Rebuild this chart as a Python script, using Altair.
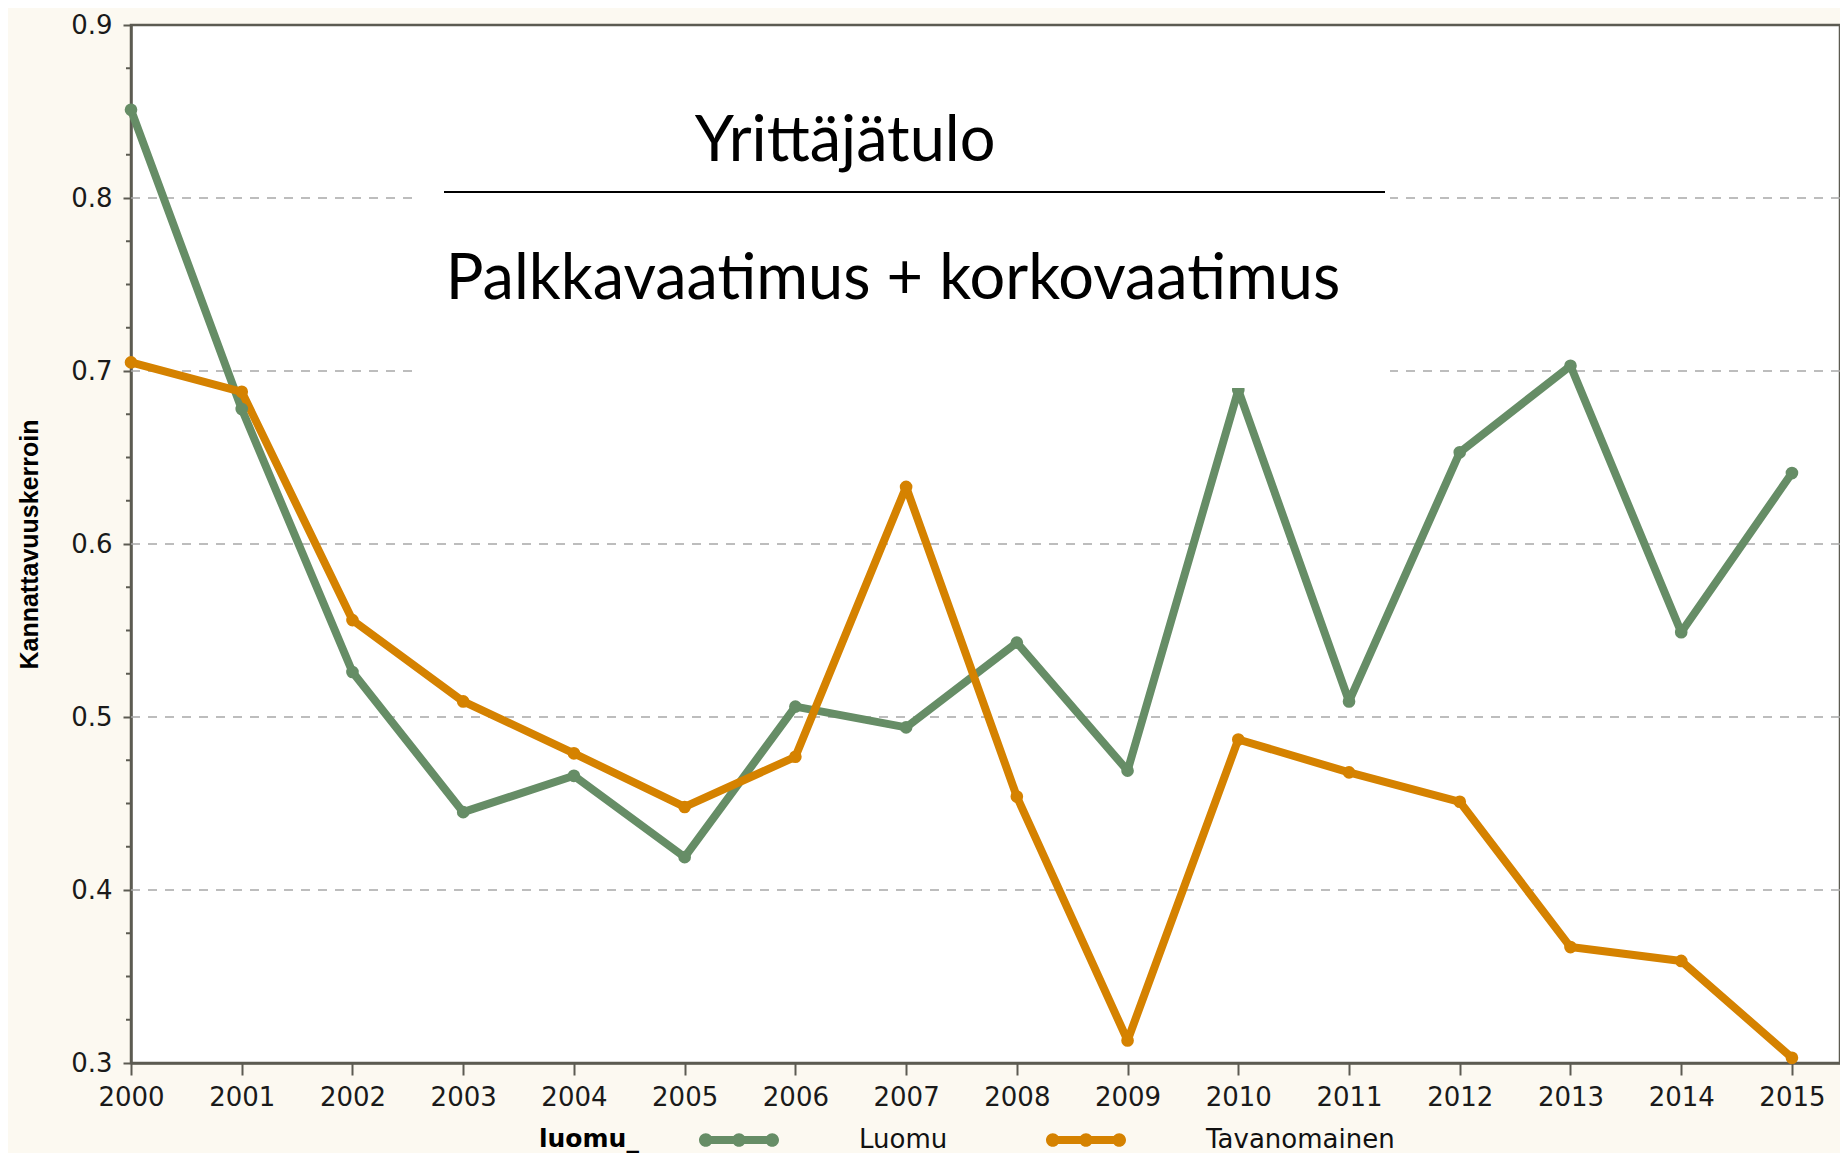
import altair as alt
import pandas as pd

# ---- data ----
years = [2000, 2001, 2002, 2003, 2004, 2005, 2006, 2007,
         2008, 2009, 2010, 2011, 2012, 2013, 2014, 2015]
luomu = [0.851, 0.678, 0.526, 0.445, 0.466, 0.419, 0.506, 0.494,
         0.543, 0.469, 0.689, 0.509, 0.653, 0.703, 0.549, 0.641]
tavanomainen = [0.705, 0.688, 0.556, 0.509, 0.479, 0.448, 0.477, 0.633,
                0.454, 0.313, 0.487, 0.468, 0.451, 0.367, 0.359, 0.303]
series_names = ["Luomu", "Tavanomainen"]
series_colors = ["#668D66", "#D58200"]
y_major = [0.3, 0.4, 0.5, 0.6, 0.7, 0.8, 0.9]
y_grid = [0.4, 0.5, 0.6, 0.7, 0.8]
y_minor = [0.325, 0.35, 0.375, 0.425, 0.45, 0.475, 0.525, 0.55, 0.575,
           0.625, 0.65, 0.675, 0.725, 0.75, 0.775, 0.825, 0.85, 0.875]
title_top = "Yrittäjätulo"
title_bottom = "Palkkavaatimus + korkovaatimus"
y_title = "Kannattavuuskerroin"
legend_title = "luomu_"

df = pd.DataFrame({
    "vuosi": years + years,
    "arvo": luomu + tavanomainen,
    "luomu_": [series_names[0]] * len(years) + [series_names[1]] * len(years),
})
grid_df = pd.DataFrame({"arvo": y_grid})
minor_df = pd.DataFrame({"arvo": y_minor})

# ---- styling ----
W, H = 1709, 1038
X_MAX = 2015.434
FRAME = "#5C5B52"
BG = "#FCF9F1"
AX_FONT = "DejaVu Sans"
BOLD_FONT = "Liberation Sans"
TITLE_FONT = "Lato"

xscale = alt.Scale(domain=[2000, X_MAX], nice=False, zero=False)
yscale = alt.Scale(domain=[0.3, 0.9], nice=False, zero=False)

x_axis = alt.Axis(
    values=years, format="d", title=None, tickSize=12, labelPadding=9,
    labelFontSize=26, labelFont=AX_FONT, labelColor="#1a1a1a",
    domainColor=FRAME, tickColor=FRAME, domainWidth=2.5, tickWidth=2,
    grid=False, labelFlush=False, labelOverlap=False)
y_axis = alt.Axis(
    values=y_major, format=".1f", title=y_title, titleFont=BOLD_FONT,
    titleFontSize=25, titleFontWeight="bold", titleColor="black",
    titleAngle=270, titleX=-102, titleY=519, titleAlign="center",
    titleBaseline="middle", tickSize=8, labelPadding=11,
    labelFontSize=26, labelFont=AX_FONT, labelColor="#1a1a1a",
    domainColor=FRAME, tickColor=FRAME, domainWidth=2.5, tickWidth=2,
    grid=False, labelFlush=False, labelOverlap=False)

x_enc = alt.X("vuosi:Q", scale=xscale, axis=x_axis)
y_enc = alt.Y("arvo:Q", scale=yscale, axis=y_axis)

color_scale = alt.Scale(domain=series_names, range=series_colors)

LEG_PATH = ("M-0.95,-0.1H0.95V0.1H-0.95Z "
            "M-0.66,0A0.17,0.17,0,1,1,-1,0A0.17,0.17,0,1,1,-0.66,0Z "
            "M0.17,0A0.17,0.17,0,1,1,-0.17,0A0.17,0.17,0,1,1,0.17,0Z "
            "M1,0A0.17,0.17,0,1,1,0.66,0A0.17,0.17,0,1,1,1,0Z")

legend = alt.Legend(
    title=legend_title, orient="none", legendX=408, legendY=1075,
    direction="horizontal", titleOrient="left", titleAnchor="middle",
    titleFont=AX_FONT, titleFontSize=25, titleFontWeight="bold",
    titleColor="black", titlePadding=60, titleBaseline="top",
    labelFont=AX_FONT, labelFontSize=26, labelColor="#111111",
    labelLimit=600,
    symbolType=LEG_PATH, symbolSize=6400, symbolStrokeWidth=0,
    symbolOpacity=1, labelOffset=80, columnPadding=98, padding=0)
color_enc = alt.Color("luomu_:N", scale=color_scale, legend=legend)

grid = alt.Chart(grid_df).mark_rule(
    color="#A8A8A8", strokeWidth=1.5, strokeDash=[9, 8]
).encode(y=y_enc)

minor = alt.Chart(minor_df).mark_rule(color=FRAME, strokeWidth=2).encode(
    y=y_enc, x=alt.value(-5), x2=alt.value(0))

lines = alt.Chart(df).mark_line(strokeWidth=8, strokeJoin="round").encode(
    x=x_enc, y=y_enc, color=color_enc, detail="luomu_:N")

points = alt.Chart(df).mark_circle(size=160, opacity=1).encode(
    x=x_enc, y=y_enc, color=color_enc)

box_data = alt.Data(values=[{"k": 1}])
box = alt.Chart(box_data).mark_rect(color="white").encode(
    x=alt.value(283), x2=alt.value(1259), y=alt.value(3), y2=alt.value(363))
divider = alt.Chart(box_data).mark_rule(color="black", strokeWidth=2).encode(
    x=alt.value(313), x2=alt.value(1254), y=alt.value(167))
txt1 = alt.Chart(box_data).mark_text(
    text=title_top, font=TITLE_FONT, fontSize=63, color="black",
    align="center", baseline="alphabetic"
).encode(x=alt.value(714), y=alt.value(136))
txt2 = alt.Chart(box_data).mark_text(
    text=title_bottom, font=TITLE_FONT, fontSize=63, color="black",
    align="center", baseline="alphabetic"
).encode(x=alt.value(762), y=alt.value(274))

chart = alt.layer(grid, minor, lines, points, box, divider, txt1, txt2).properties(
    width=W, height=H,
    autosize=alt.AutoSizeParams(type="none"),
    padding={"left": 123, "top": 17, "right": 0, "bottom": 90},
    background=BG,
).configure_view(fill="white", stroke=FRAME, strokeWidth=2.5)

chart.save("out.html", embed_options={"renderer": "svg", "actions": False})
